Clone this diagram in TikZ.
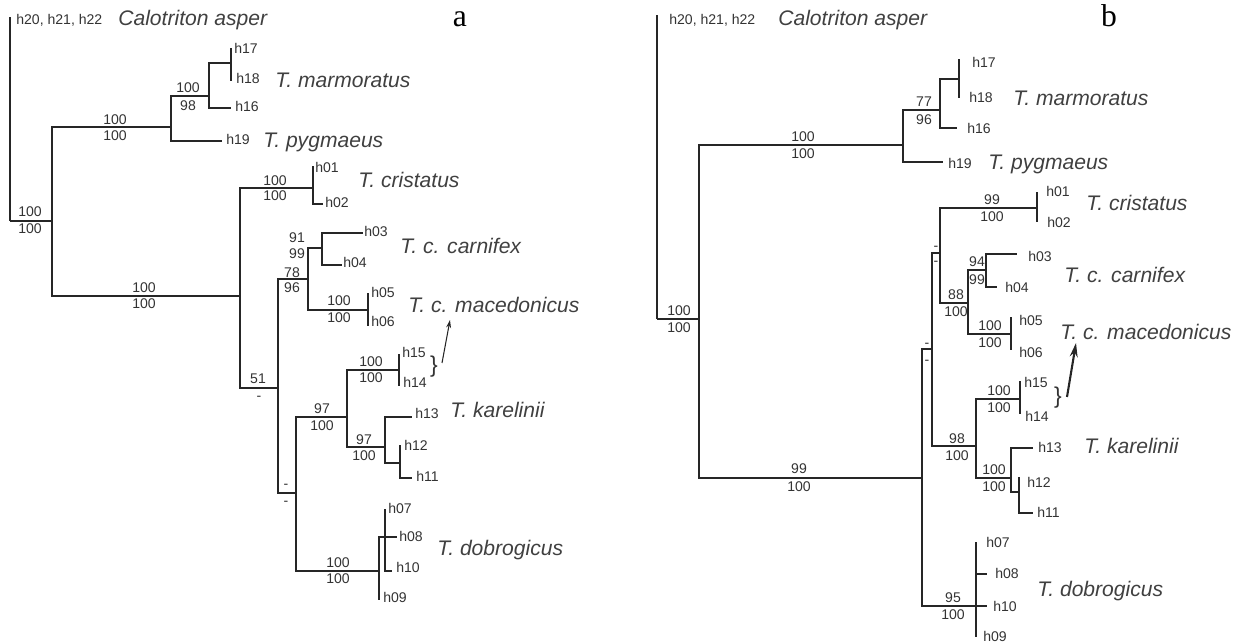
\documentclass[tikz,border=0pt]{standalone}
\usepackage{fontspec}
\setmainfont{Liberation Sans}
\newfontfamily\letterfont{Liberation Serif}
\usetikzlibrary{arrows.meta}

\begin{document}
\begin{tikzpicture}[x=0.02cm, y=-0.02cm,
		br/.style={line width=1.1pt, draw=black!85},
		hap/.style={font=\fontsize{8}{8}\selectfont, text=black!80, anchor=base west, inner sep=0pt, yshift=-0.1cm},
		taxon/.style={font=\fontsize{12}{12}\selectfont\itshape, text=black!75, anchor=base west, inner sep=0pt, yshift=-0.15cm},
		bs/.style={font=\fontsize{8}{8}\selectfont, text=black!80, anchor=base, inner sep=0pt, yshift=-0.1cm},
		brc/.style={font=\fontsize{13}{13}\selectfont, text=black!80, inner sep=0pt},
		panel/.style={font=\letterfont\fontsize{18}{18}\selectfont, anchor=base, inner sep=0pt}]
		\useasboundingbox (0,0) rectangle (1237,644);
		
		% tree a
		\coordinate (rootA) at (10,221);
		\coordinate (calA) at (10,17);
		\coordinate (A1) at (52,221);
		\coordinate (A2) at (171,127);
		\coordinate (A3) at (209,96);
		\coordinate (A4) at (231,63);
		\coordinate (a17) at (231,48);
		\coordinate (a18) at (231,81);
		\coordinate (a16) at (231,108);
		\coordinate (a19) at (222,141);
		\coordinate (A6) at (240,296);
		\coordinate (A7) at (313,188);
		\coordinate (a01) at (313,166);
		\coordinate (a02) at (323,204);
		\coordinate (A8) at (278,388);
		\coordinate (A9) at (308,279);
		\coordinate (A10) at (322,248);
		\coordinate (a03) at (363,233);
		\coordinate (a04) at (342,265);
		\coordinate (A11) at (368,310);
		\coordinate (a05) at (368,293);
		\coordinate (a06) at (368,326);
		\coordinate (A12) at (296,493);
		\coordinate (A13) at (347,417);
		\coordinate (A14) at (399,370);
		\coordinate (a15) at (399,354);
		\coordinate (a14) at (399,386);
		\coordinate (A15) at (385,447);
		\coordinate (a13) at (412,417);
		\coordinate (A16) at (400,463);
		\coordinate (a12) at (400,445);
		\coordinate (a11) at (412,478);
		\coordinate (A17) at (379,571);
		\coordinate (A18) at (385,537);
		\coordinate (a07) at (385,509);
		\coordinate (a08) at (397,537);
		\coordinate (a10) at (392,571);
		\coordinate (a09) at (379,600);
		
		\draw[br] (rootA) |- (calA) (rootA) |- (A1)
			(A1) |- (A2) (A1) |- (A6)
			(A2) |- (A3) (A2) |- (a19)
			(A3) |- (A4) (A3) |- (a16)
			(A4) |- (a17) (A4) |- (a18)
			(A6) |- (A7) (A6) |- (A8)
			(A7) |- (a01) (A7) |- (a02)
			(A8) |- (A9) (A8) |- (A12)
			(A9) |- (A10) (A9) |- (A11)
			(A10) |- (a03) (A10) |- (a04)
			(A11) |- (a05) (A11) |- (a06)
			(A12) |- (A13) (A12) |- (A17)
			(A13) |- (A14) (A13) |- (A15)
			(A14) |- (a15) (A14) |- (a14)
			(A15) |- (a13) (A15) |- (A16)
			(A16) |- (a12) (A16) |- (a11)
			(A17) |- (A18) (A17) |- (a09)
			(A18) |- (a07) (A18) |- (a08) (A18) |- (a10);
		
		\node[bs] (sA1u) at (30,212) {100};
		\node[bs] (sA1d) at (30,229) {100};
		\node[bs] (sA2u) at (115,120) {100};
		\node[bs] (sA2d) at (115,136) {100};
		\node[bs] (sA3u) at (188,88) {100};
		\node[bs] (sA3d) at (188,106) {98};
		\node[bs] (sA6u) at (144,288) {100};
		\node[bs] (sA6d) at (144,304) {100};
		\node[bs] (sA7u) at (275,181) {100};
		\node[bs] (sA7d) at (275,196) {100};
		\node[bs] (sA8u) at (258,379) {51};
		\node[bs] (sA8d) at (259,396) {-};
		\node[bs] (sA9u) at (292,273) {78};
		\node[bs] (sA9d) at (292,288) {96};
		\node[bs] (sA10u) at (297,238) {91};
		\node[bs] (sA10d) at (297,254) {99};
		\node[bs] (sA11u) at (339,301) {100};
		\node[bs] (sA11d) at (339,318) {100};
		\node[bs] (sA12u) at (286,484) {-};
		\node[bs] (sA12d) at (286,501) {-};
		\node[bs] (sA13u) at (322,409) {97};
		\node[bs] (sA13d) at (322,426) {100};
		\node[bs] (sA14u) at (371,362) {100};
		\node[bs] (sA14d) at (371,378) {100};
		\node[bs] (sA15u) at (364,440) {97};
		\node[bs] (sA15d) at (364,456) {100};
		\node[bs] (sA17u) at (338,563) {100};
		\node[bs] (sA17d) at (338,579) {100};
		
		\node[hap] (tA20) at (16,20) {h20, h21, h22};
		\node[taxon] (nCalA) at (118,18) {Calotriton asper};
		\node[hap] (tA17) at (234,49) {h17};
		\node[hap] (tA18) at (236,79) {h18};
		\node[hap] (tA16) at (235,107) {h16};
		\node[hap] (tA19) at (226,140) {h19};
		\node[taxon] (nMarA) at (275,80) {T. marmoratus};
		\node[taxon] (nPygA) at (263,140) {T. pygmaeus};
		\node[hap] (tA01) at (315,168) {h01};
		\node[hap] (tA02) at (325,203) {h02};
		\node[taxon] (nCriA) at (358,180) {T. cristatus};
		\node[hap] (tA03) at (364,232) {h03};
		\node[hap] (tA04) at (343,263) {h04};
		\node[taxon] (nCarA) at (400,246) {T. c. carnifex};
		\node[hap] (tA05) at (371,293) {h05};
		\node[hap] (tA06) at (371,322) {h06};
		\node[taxon] (nMacA) at (408,305) {T. c. macedonicus};
		\node[hap] (tA15) at (402,353) {h15};
		\node[hap] (tA14) at (403,383) {h14};
		\node[hap] (tA13) at (415,414) {h13};
		\node[hap] (tA12) at (404,446) {h12};
		\node[hap] (tA11) at (416,477) {h11};
		\node[taxon] (nKarA) at (450,410) {T. karelinii};
		\node[hap] (tA07) at (388,509) {h07};
		\node[hap] (tA08) at (399,537) {h08};
		\node[hap] (tA10) at (396,568) {h10};
		\node[hap] (tA09) at (383,598) {h09};
		\node[taxon] (nDobA) at (437,548) {T. dobrogicus};
		
		\node[brc] (brA) at (434,367) {\}};
		\coordinate (arA0) at (442,363);
		\coordinate (arA1) at (450,320);
		\draw[-{Stealth[length=4.5pt, width=2.8pt]}, line width=0.6pt, black!85] (arA0) -- (arA1);
		
		\node[panel] (pa) at (460,27) {a};
		
		% tree b
		\coordinate (rootB) at (657,319);
		\coordinate (calB) at (657,15);
		\coordinate (B1) at (699,319);
		\coordinate (B2) at (903,145);
		\coordinate (B3) at (940,110);
		\coordinate (B4) at (959,79);
		\coordinate (b17) at (959,59);
		\coordinate (b18) at (959,98);
		\coordinate (b16) at (957,128);
		\coordinate (b19) at (943,162);
		\coordinate (B6) at (922,478);
		\coordinate (B7) at (932,349);
		\coordinate (B8) at (940,253);
		\coordinate (B9) at (1037,208);
		\coordinate (b01) at (1037,192);
		\coordinate (b02) at (1037,222);
		\coordinate (B10) at (968,303);
		\coordinate (B11) at (986,270);
		\coordinate (b03) at (1017,254);
		\coordinate (b04) at (997,287);
		\coordinate (B12) at (1011,334);
		\coordinate (b05) at (1011,317);
		\coordinate (b06) at (1011,350);
		\coordinate (B13) at (976,446);
		\coordinate (B14) at (1020,399);
		\coordinate (b15) at (1020,381);
		\coordinate (b14) at (1020,414);
		\coordinate (B15) at (1011,478);
		\coordinate (b13) at (1033,448);
		\coordinate (B16) at (1019,492);
		\coordinate (b12) at (1019,477);
		\coordinate (b11) at (1033,513);
		\coordinate (B17) at (976,606);
		\coordinate (b07) at (976,542);
		\coordinate (b08) at (987,574);
		\coordinate (b10) at (987,606);
		\coordinate (b09) at (976,637);
		
		\draw[br] (rootB) |- (calB) (rootB) |- (B1)
			(B1) |- (B2) (B1) |- (B6)
			(B2) |- (B3) (B2) |- (b19)
			(B3) |- (B4) (B3) |- (b16)
			(B4) |- (b17) (B4) |- (b18)
			(B6) |- (B7) (B6) |- (B17)
			(B7) |- (B8) (B7) |- (B13)
			(B8) |- (B9) (B8) |- (B10)
			(B9) |- (b01) (B9) |- (b02)
			(B10) |- (B11) (B10) |- (B12)
			(B11) |- (b03) (B11) |- (b04)
			(B12) |- (b05) (B12) |- (b06)
			(B13) |- (B14) (B13) |- (B15)
			(B14) |- (b15) (B14) |- (b14)
			(B15) |- (b13) (B15) |- (B16)
			(B16) |- (b12) (B16) |- (b11)
			(B17) |- (b07) (B17) |- (b08) (B17) |- (b10) (B17) |- (b09);
		
		\node[bs] (sB1u) at (679,311) {100};
		\node[bs] (sB1d) at (679,328) {100};
		\node[bs] (sB2u) at (803,137) {100};
		\node[bs] (sB2d) at (803,154) {100};
		\node[bs] (sB3u) at (924,102) {77};
		\node[bs] (sB3d) at (924,120) {96};
		\node[bs] (sB6u) at (799,469) {99};
		\node[bs] (sB6d) at (799,487) {100};
		\node[bs] (sB7u) at (927,343) {-};
		\node[bs] (sB7d) at (927,360) {-};
		\node[bs] (sB8u) at (936,246) {-};
		\node[bs] (sB8d) at (936,261) {-};
		\node[bs] (sB9u) at (992,200) {99};
		\node[bs] (sB9d) at (992,217) {100};
		\node[bs] (sB10u) at (956,295) {88};
		\node[bs] (sB10d) at (956,312) {100};
		\node[bs] (sB11u) at (977,262) {94};
		\node[bs] (sB11d) at (977,280) {99};
		\node[bs] (sB12u) at (990,326) {100};
		\node[bs] (sB12d) at (990,343) {100};
		\node[bs] (sB13u) at (957,439) {98};
		\node[bs] (sB13d) at (957,456) {100};
		\node[bs] (sB14u) at (999,391) {100};
		\node[bs] (sB14d) at (999,408) {100};
		\node[bs] (sB15u) at (994,470) {100};
		\node[bs] (sB15d) at (994,487) {100};
		\node[bs] (sB17u) at (953,598) {95};
		\node[bs] (sB17d) at (953,615) {100};
		
		\node[hap] (tB20) at (669,20) {h20, h21, h22};
		\node[taxon] (nCalB) at (778,18) {Calotriton asper};
		\node[hap] (tB17) at (972,63) {h17};
		\node[hap] (tB18) at (969,98) {h18};
		\node[hap] (tB16) at (967,129) {h16};
		\node[hap] (tB19) at (948,164) {h19};
		\node[taxon] (nMarB) at (1013,98) {T. marmoratus};
		\node[taxon] (nPygB) at (988,162) {T. pygmaeus};
		\node[hap] (tB01) at (1046,192) {h01};
		\node[hap] (tB02) at (1047,223) {h02};
		\node[taxon] (nCriB) at (1086,203) {T. cristatus};
		\node[hap] (tB03) at (1028,257) {h03};
		\node[hap] (tB04) at (1005,288) {h04};
		\node[taxon] (nCarB) at (1064,275) {T. c. carnifex};
		\node[hap] (tB05) at (1019,321) {h05};
		\node[hap] (tB06) at (1019,353) {h06};
		\node[taxon] (nMacB) at (1060,332) {T. c. macedonicus};
		\node[hap] (tB15) at (1024,383) {h15};
		\node[hap] (tB14) at (1025,417) {h14};
		\node[hap] (tB13) at (1038,448) {h13};
		\node[hap] (tB12) at (1027,483) {h12};
		\node[hap] (tB11) at (1037,513) {h11};
		\node[taxon] (nKarB) at (1084,446) {T. karelinii};
		\node[hap] (tB07) at (986,543) {h07};
		\node[hap] (tB08) at (995,574) {h08};
		\node[hap] (tB10) at (993,607) {h10};
		\node[hap] (tB09) at (983,637) {h09};
		\node[taxon] (nDobB) at (1037,589) {T. dobrogicus};
		
		\node[brc] (brB) at (1058,398) {\}};
		\coordinate (arB0) at (1067,397);
		\coordinate (arB1) at (1076,343);
		\draw[-{Stealth[length=8pt, width=4.5pt]}, line width=1.2pt, black!85] (arB0) -- (arB1);
		
		\node[panel] (pb) at (1109,27) {b};
	\end{tikzpicture}
\end{document}
